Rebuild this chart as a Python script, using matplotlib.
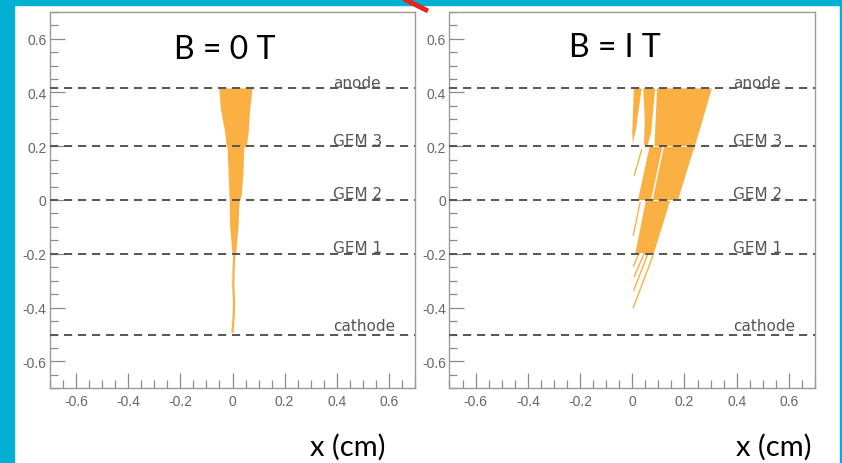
import matplotlib.pyplot as plt
from matplotlib.patches import Rectangle, Polygon
from matplotlib.lines import Line2D
from matplotlib.ticker import MultipleLocator, FuncFormatter

plt.rcParams['axes.unicode_minus'] = False

# electrode planes of the triple-GEM stack (cm)
plane_y = [0.415, 0.2, 0.0, -0.2, -0.5]
plane_names = ['anode', 'GEM 3', 'GEM 2', 'GEM 1', 'cathode']
panel_titles = ['B = 0 T', 'B = I T']

# B = 0 T: drift-line envelope
b0_x = [-0.051, 0.077, 0.068, 0.062, 0.055, 0.045, 0.042, 0.036, 0.030,
        0.027, 0.023, 0.014, 0.000, -0.009, -0.011, -0.015, -0.019,
        -0.022, -0.028, -0.045]
b0_y = [0.415, 0.415, 0.34, 0.25, 0.2, 0.195, 0.1, 0.02, 0.0, -0.005,
        -0.1, -0.2, -0.2, -0.1, 0.0, 0.1, 0.195, 0.2, 0.25, 0.34]
b0_tail_x = [0.007, 0.004, 0.003, 0.006, 0.004, 0.000]
b0_tail_y = [-0.2, -0.26, -0.32, -0.38, -0.44, -0.49]

# B = 1 T: tilted bundles between the planes
b1_bands = [
    [(0.095, 0.415), (0.305, 0.415), (0.240, 0.200), (0.085, 0.200)],
    [(0.006, 0.415), (0.036, 0.415), (0.014, 0.26), (0.002, 0.21), (0.000, 0.25)],
    [(0.042, 0.415), (0.088, 0.415), (0.072, 0.25), (0.058, 0.20), (0.045, 0.205), (0.048, 0.30)],
    [(0.066, 0.197), (0.115, 0.197), (0.072, 0.000), (0.022, 0.000)],
    [(0.121, 0.197), (0.238, 0.197), (0.175, 0.000), (0.078, 0.000)],
    [(0.052, -0.003), (0.145, -0.003), (0.083, -0.197), (0.012, -0.197)],
]
# single stray drift lines for B = 1 T: (x0, y0, x1, y1)
b1_lines = [
    (0.036, 0.186, 0.008, 0.093),
    (0.030, -0.010, 0.004, -0.130),
    (0.025, -0.200, 0.005, -0.245),
    (0.045, -0.200, 0.007, -0.285),
    (0.060, -0.200, 0.006, -0.335),
    (0.082, -0.200, 0.004, -0.400),
]

ORANGE = '#FAB042'
CYAN = '#00B0D2'

W, H = 842, 464
fig = plt.figure(figsize=(W / 100, H / 100), dpi=100)
fig.patch.set_facecolor('white')

# slide frame
fig.patches.append(Rectangle((0, 0), 14 / W, 1, transform=fig.transFigure, color=CYAN, zorder=0))
fig.patches.append(Rectangle((0, 1 - 6 / H), 1, 6 / H, transform=fig.transFigure, color=CYAN, zorder=0))
fig.patches.append(Rectangle((1 - 2 / W, 0), 2 / W, 1, transform=fig.transFigure, color=CYAN, zorder=0))
fig.add_artist(Line2D([404 / W, 428 / W], [1, 1 - 12 / H], color='#E8231C', lw=3.5,
                      solid_capstyle='butt', transform=fig.transFigure))

ax0 = fig.add_axes([50 / W, 74.7 / H, 365 / W, 376.6 / H])
ax1 = fig.add_axes([449.5 / W, 74.7 / H, 365.5 / W, 376.6 / H])

fmt = FuncFormatter(lambda v, _: '0' if abs(v) < 1e-9 else f'{v:.1f}')

for ax in (ax0, ax1):
    ax.set_xlim(-0.7, 0.7)
    ax.set_ylim(-0.7, 0.7)
    for a in (ax.xaxis, ax.yaxis):
        a.set_major_locator(MultipleLocator(0.2))
        a.set_minor_locator(MultipleLocator(0.05))
        a.set_major_formatter(fmt)
    ax.tick_params(which='both', direction='in', top=False, right=False,
                   color='#8a8a8a', width=0.9, labelcolor='#666666')
    ax.tick_params(which='major', length=11)
    ax.tick_params(which='minor', length=5.5)
    ax.tick_params(axis='y', pad=2.5)
    ax.tick_params(axis='x', pad=4)
    for lab in ax.get_xticklabels() + ax.get_yticklabels():
        lab.set_fontfamily('Liberation Sans')
        lab.set_fontsize(10)
    for s in ax.spines.values():
        s.set_color('#9a9a9a')
        s.set_linewidth(1.0)

    for y, name in zip(plane_y, plane_names):
        ax.axhline(y, color='#555555', lw=1.4, ls=(0, (4.2, 3.0)), zorder=3)
        lift = 3.2 if name == 'cathode' else 1.2
        ax.annotate(name, (0.387, y), xytext=(0, lift), textcoords='offset points',
                    fontsize=11, color='#555555', ha='left', va='baseline', zorder=4)

    ax.set_xlabel('x (cm)', fontfamily='Lato', fontsize=21, color='black')
    ax.xaxis.label.set_verticalalignment('baseline')

ax0.xaxis.set_label_coords(0.816, -0.176)
ax1.xaxis.set_label_coords(0.888, -0.176)

# B = 0 T
ax0.fill(b0_x, b0_y, color=ORANGE, lw=0, zorder=2)
ax0.plot(b0_tail_x, b0_tail_y, color=ORANGE, lw=1.6, zorder=2)
ax0.text(-0.03, 0.527, panel_titles[0], fontfamily='Lato', fontsize=23,
         ha='center', va='baseline', color='black')

# B = 1 T
for band in b1_bands:
    ax1.add_patch(Polygon(band, closed=True, color=ORANGE, lw=0, zorder=2))
for x0, y0, x1, y1 in b1_lines:
    ax1.plot([x0, x1], [y0, y1], color=ORANGE, lw=1.0, zorder=2)
ax1.text(-0.065, 0.537, panel_titles[1], fontfamily='Lato', fontsize=23,
         ha='center', va='baseline', color='black')

fig.savefig('out.png', dpi=100)
